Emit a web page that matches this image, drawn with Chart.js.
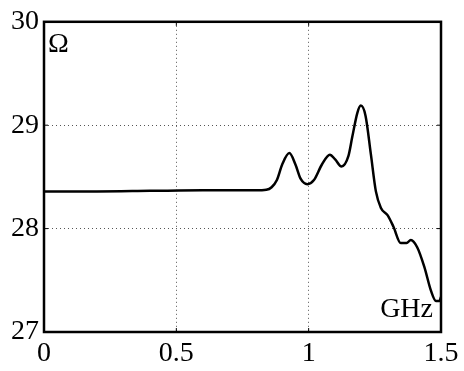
<!DOCTYPE html>
<html>
<head>
<meta charset="utf-8">
<script src="https://cdn.jsdelivr.net/npm/chart.js@4"></script>
<style>
  html, body { margin: 0; padding: 0; background: #fff; }
  #wrap { width: 464px; height: 371px; }
</style>
</head>
<body>
<div id="wrap"><canvas id="chart" width="464" height="371"></canvas></div>
<script>
// frequency in GHz, impedance in ohms
const freqs = [0, 0.2, 0.4, 0.6, 0.8, 0.84, 0.86, 0.88, 0.9, 0.927, 0.95, 0.97, 0.995, 1.02, 1.05, 1.08, 1.1, 1.124,
  1.15, 1.165, 1.184, 1.197, 1.215, 1.235, 1.254, 1.273, 1.298, 1.32, 1.348, 1.37, 1.386, 1.41, 1.437, 1.462, 1.481, 1.494, 1.5];
const ohms = [28.36, 28.36, 28.365, 28.37, 28.37, 28.375, 28.40, 28.47, 28.62, 28.73, 28.62, 28.48, 28.43, 28.47, 28.62, 28.715, 28.67, 28.60,
  28.70, 28.89, 29.12, 29.19, 29.09, 28.72, 28.36, 28.20, 28.13, 28.02, 27.86, 27.86, 27.89, 27.82, 27.63, 27.40, 27.30, 27.30, 27.34];
const xTicks = [0, 0.5, 1, 1.5];
const yTicks = [27, 28, 29, 30];

const serif = "'Liberation Serif', 'Times New Roman', serif";

// frame, inward ticks, unit labels
const framePlugin = {
  id: 'frame',
  afterDraw(chart) {
    const { ctx, chartArea: a, scales } = chart;
    ctx.save();
    ctx.strokeStyle = '#000';
    ctx.lineWidth = 1;
    xTicks.forEach(v => {
      const px = scales.x.getPixelForValue(v);
      ctx.beginPath();
      ctx.moveTo(px, a.bottom); ctx.lineTo(px, a.bottom - 4);
      ctx.moveTo(px, a.top); ctx.lineTo(px, a.top + 4);
      ctx.stroke();
    });
    yTicks.forEach(v => {
      const py = scales.y.getPixelForValue(v);
      ctx.beginPath();
      ctx.moveTo(a.left, py); ctx.lineTo(a.left + 4, py);
      ctx.moveTo(a.right, py); ctx.lineTo(a.right - 4, py);
      ctx.stroke();
    });
    ctx.lineWidth = 2.5;
    ctx.strokeRect(a.left, a.top, a.right - a.left, a.bottom - a.top);
    ctx.fillStyle = '#000';
    ctx.font = '28px ' + serif;
    ctx.textBaseline = 'alphabetic';
    ctx.textAlign = 'left';
    ctx.fillText('Ω', a.left + 4, a.top + 30);
    ctx.textAlign = 'right';
    ctx.fillText('GHz', a.right - 8, a.bottom - 15);
    ctx.restore();
  }
};

new Chart(document.getElementById('chart'), {
  type: 'line',
  data: {
    datasets: [{
      data: freqs.map((f, i) => ({ x: f, y: ohms[i] })),
      borderColor: '#000',
      borderWidth: 2.5,
      pointRadius: 0,
      cubicInterpolationMode: 'monotone',
      fill: false
    }]
  },
  options: {
    responsive: false,
    animation: false,
    layout: { padding: { top: 19, right: 23, bottom: 0, left: 0 } },
    plugins: { legend: { display: false }, tooltip: { enabled: false } },
    scales: {
      x: {
        type: 'linear', min: 0, max: 1.5,
        afterBuildTicks: s => { s.ticks = xTicks.map(v => ({ value: v })); },
        afterFit: s => { s.height = 39; },
        ticks: { color: '#000', font: { family: serif, size: 28 }, padding: 5, maxRotation: 0,
          callback: v => String(v) },
        grid: { color: '#555', drawTicks: false },
        border: { display: false, dash: [1, 3] }
      },
      y: {
        min: 27, max: 30,
        afterBuildTicks: s => { s.ticks = yTicks.map(v => ({ value: v })); },
        afterFit: s => { s.width = 44; },
        ticks: { color: '#000', font: { family: serif, size: 28 }, padding: 5,
          callback: v => String(v) },
        grid: { color: '#555', drawTicks: false },
        border: { display: false, dash: [1, 3] }
      }
    }
  },
  plugins: [framePlugin]
});
</script>
</body>
</html>
